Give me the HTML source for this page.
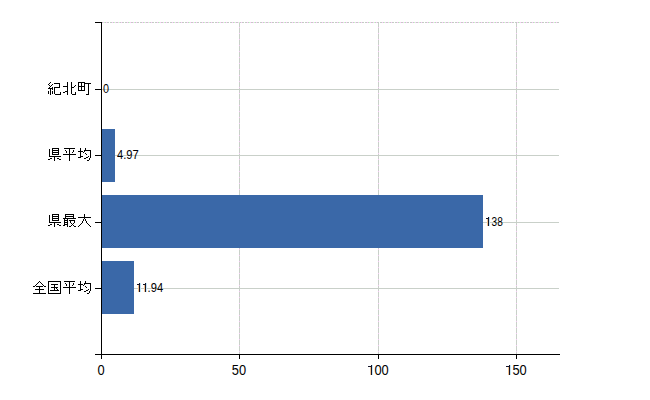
<!DOCTYPE html>
<html>
<head>
<meta charset="utf-8">
<style>
html,body{margin:0;padding:0;background:#fff;width:650px;height:400px;overflow:hidden;}
body{position:relative;font-family:"Liberation Sans",sans-serif;color:#000;}
.a{position:absolute;}
.hg{position:absolute;left:102px;width:457px;height:1px;background:#c9d0c9;}
.vg{position:absolute;top:23px;width:1px;height:331px;background:repeating-linear-gradient(to bottom,#c9d0c9 0,#c9d0c9 4px,#f4c8f4 4px,#f4c8f4 5px,#c9d0c9 5px,#c9d0c9 6px);}
.bar{position:absolute;left:102px;height:53px;background:#3a68a8;}
.yt{position:absolute;left:95px;width:6px;height:1px;background:#000;}
.dl{position:absolute;font-size:12px;line-height:12px;white-space:nowrap;transform-origin:0 50%;transform:scaleX(0.9);}
.xl{position:absolute;top:364px;font-size:14px;line-height:12px;white-space:nowrap;text-align:center;width:40px;transform:scaleX(0.92);}
.h{color:transparent;}
.xt{position:absolute;top:355px;width:1px;height:4px;background:#000;}
</style>
</head>
<body>
<!-- top dashed border -->
<div class="a" style="left:102px;top:22px;width:457px;height:1px;background:repeating-linear-gradient(to right,#c4ccc4 0px,#c4ccc4 1px,#fcc8fc 1px,#fcc8fc 2px,#c8fcc8 2px,#c8fcc8 3px,#c4ccc4 3px,#c4ccc4 4px,#fcc8fc 4px,#fcc8fc 5px,#c4ccc4 5px,#c4ccc4 6px,#c4ccc4 6px,#c4ccc4 7px,#ffffff 7px,#ffffff 8px,#c4ccc4 8px,#c4ccc4 9px,#c4ccc4 9px,#c4ccc4 10px,#fcc8fc 10px,#fcc8fc 11px,#c4ccc4 11px,#c4ccc4 12px,#c8fcc8 12px,#c8fcc8 13px,#fcc8fc 13px,#fcc8fc 14px,#c4ccc4 14px,#c4ccc4 15px);"></div>
<!-- vertical gridlines -->
<div class="vg" style="left:239px"></div>
<div class="vg" style="left:378px"></div>
<div class="vg" style="left:516px"></div>
<!-- horizontal gridlines -->
<div class="hg" style="top:89px"></div>
<div class="hg" style="top:155px"></div>
<div class="hg" style="top:222px"></div>
<div class="hg" style="top:288px"></div>
<!-- bars -->
<div class="bar" style="top:129px;width:13px"></div>
<div class="bar" style="top:195px;width:381px"></div>
<div class="bar" style="top:261px;width:32px"></div>
<!-- axes -->
<div class="a" style="left:101px;top:22px;width:1px;height:333px;background:#000"></div>
<div class="a" style="left:95px;top:354px;width:465px;height:1px;background:#000"></div>
<!-- y ticks -->
<div class="yt" style="top:22px"></div>
<div class="yt" style="top:89px"></div>
<div class="yt" style="top:155px"></div>
<div class="yt" style="top:222px"></div>
<div class="yt" style="top:288px"></div>
<!-- y labels (pixel glyphs: 紀北町 / 県平均 / 県最大 / 全国平均) -->
<svg class="a" style="left:0;top:0" width="650" height="400" viewBox="0 0 650 400" shape-rendering="crispEdges"><path fill="#000" d="M50 82h1v1h-1zM67 82h1v1h-1zM71 82h1v1h-1zM78 82h7v1h-7zM49 83h1v1h-1zM54 83h6v1h-6zM67 83h1v1h-1zM71 83h1v1h-1zM78 83h1v1h-1zM81 83h1v1h-1zM84 83h7v1h-7zM48 84h1v1h-1zM52 84h1v1h-1zM59 84h1v1h-1zM67 84h1v1h-1zM71 84h1v1h-1zM78 84h1v1h-1zM81 84h1v1h-1zM84 84h1v1h-1zM88 84h1v1h-1zM49 85h1v1h-1zM51 85h1v1h-1zM59 85h1v1h-1zM67 85h1v1h-1zM71 85h1v1h-1zM75 85h1v1h-1zM78 85h1v1h-1zM81 85h1v1h-1zM84 85h1v1h-1zM88 85h1v1h-1zM50 86h1v1h-1zM59 86h1v1h-1zM63 86h5v1h-5zM71 86h1v1h-1zM74 86h1v1h-1zM78 86h7v1h-7zM88 86h1v1h-1zM49 87h1v1h-1zM52 87h1v1h-1zM54 87h6v1h-6zM67 87h1v1h-1zM71 87h3v1h-3zM78 87h1v1h-1zM81 87h1v1h-1zM84 87h1v1h-1zM88 87h1v1h-1zM48 88h5v1h-5zM54 88h1v1h-1zM67 88h1v1h-1zM71 88h1v1h-1zM78 88h1v1h-1zM81 88h1v1h-1zM84 88h1v1h-1zM88 88h1v1h-1zM50 89h1v1h-1zM52 89h1v1h-1zM54 89h1v1h-1zM67 89h1v1h-1zM71 89h1v1h-1zM78 89h1v1h-1zM81 89h1v1h-1zM84 89h1v1h-1zM88 89h1v1h-1zM50 90h1v1h-1zM54 90h1v1h-1zM67 90h1v1h-1zM71 90h1v1h-1zM78 90h7v1h-7zM88 90h1v1h-1zM48 91h1v1h-1zM50 91h1v1h-1zM52 91h1v1h-1zM54 91h1v1h-1zM65 91h3v1h-3zM71 91h1v1h-1zM88 91h1v1h-1zM48 92h1v1h-1zM50 92h1v1h-1zM52 92h1v1h-1zM54 92h1v1h-1zM60 92h1v1h-1zM63 92h2v1h-2zM67 92h1v1h-1zM71 92h1v1h-1zM75 92h1v1h-1zM88 92h1v1h-1zM48 93h1v1h-1zM50 93h1v1h-1zM52 93h1v1h-1zM54 93h1v1h-1zM60 93h1v1h-1zM67 93h1v1h-1zM71 93h1v1h-1zM75 93h1v1h-1zM88 93h1v1h-1zM50 94h1v1h-1zM55 94h6v1h-6zM67 94h1v1h-1zM72 94h4v1h-4zM86 94h3v1h-3zM52 148h7v1h-7zM64 148h11v1h-11zM80 148h1v1h-1zM85 148h1v1h-1zM49 149h1v1h-1zM52 149h1v1h-1zM58 149h1v1h-1zM69 149h1v1h-1zM80 149h1v1h-1zM85 149h1v1h-1zM49 150h1v1h-1zM52 150h7v1h-7zM65 150h1v1h-1zM69 150h1v1h-1zM73 150h1v1h-1zM80 150h1v1h-1zM84 150h7v1h-7zM49 151h1v1h-1zM52 151h1v1h-1zM58 151h1v1h-1zM66 151h1v1h-1zM69 151h1v1h-1zM73 151h1v1h-1zM78 151h5v1h-5zM84 151h1v1h-1zM90 151h1v1h-1zM49 152h1v1h-1zM52 152h7v1h-7zM66 152h1v1h-1zM69 152h1v1h-1zM72 152h1v1h-1zM80 152h1v1h-1zM83 152h1v1h-1zM90 152h1v1h-1zM49 153h1v1h-1zM52 153h1v1h-1zM58 153h1v1h-1zM69 153h1v1h-1zM80 153h1v1h-1zM85 153h1v1h-1zM90 153h1v1h-1zM49 154h1v1h-1zM52 154h7v1h-7zM63 154h13v1h-13zM80 154h1v1h-1zM86 154h1v1h-1zM90 154h1v1h-1zM49 155h1v1h-1zM69 155h1v1h-1zM80 155h1v1h-1zM90 155h1v1h-1zM49 156h12v1h-12zM69 156h1v1h-1zM80 156h3v1h-3zM88 156h1v1h-1zM90 156h1v1h-1zM54 157h1v1h-1zM69 157h1v1h-1zM78 157h3v1h-3zM86 157h2v1h-2zM90 157h1v1h-1zM50 158h2v1h-2zM54 158h1v1h-1zM57 158h2v1h-2zM69 158h1v1h-1zM84 158h2v1h-2zM89 158h1v1h-1zM48 159h2v1h-2zM54 159h1v1h-1zM59 159h2v1h-2zM69 159h1v1h-1zM89 159h1v1h-1zM54 160h1v1h-1zM69 160h1v1h-1zM87 160h2v1h-2zM52 214h7v1h-7zM65 214h9v1h-9zM84 214h1v1h-1zM49 215h1v1h-1zM52 215h1v1h-1zM58 215h1v1h-1zM65 215h1v1h-1zM73 215h1v1h-1zM84 215h1v1h-1zM49 216h1v1h-1zM52 216h7v1h-7zM65 216h9v1h-9zM84 216h1v1h-1zM49 217h1v1h-1zM52 217h1v1h-1zM58 217h1v1h-1zM65 217h1v1h-1zM73 217h1v1h-1zM78 217h13v1h-13zM49 218h1v1h-1zM52 218h7v1h-7zM63 218h13v1h-13zM84 218h1v1h-1zM49 219h1v1h-1zM52 219h1v1h-1zM58 219h1v1h-1zM64 219h1v1h-1zM67 219h1v1h-1zM83 219h1v1h-1zM85 219h1v1h-1zM49 220h1v1h-1zM52 220h7v1h-7zM64 220h4v1h-4zM69 220h6v1h-6zM83 220h1v1h-1zM85 220h1v1h-1zM49 221h1v1h-1zM64 221h1v1h-1zM67 221h1v1h-1zM70 221h1v1h-1zM74 221h1v1h-1zM82 221h1v1h-1zM86 221h1v1h-1zM49 222h12v1h-12zM64 222h4v1h-4zM70 222h1v1h-1zM74 222h1v1h-1zM82 222h1v1h-1zM86 222h1v1h-1zM54 223h1v1h-1zM64 223h1v1h-1zM67 223h1v1h-1zM71 223h1v1h-1zM73 223h1v1h-1zM81 223h1v1h-1zM87 223h1v1h-1zM50 224h2v1h-2zM54 224h1v1h-1zM57 224h2v1h-2zM64 224h4v1h-4zM72 224h1v1h-1zM80 224h1v1h-1zM88 224h1v1h-1zM48 225h2v1h-2zM54 225h1v1h-1zM59 225h2v1h-2zM63 225h2v1h-2zM67 225h1v1h-1zM71 225h1v1h-1zM73 225h1v1h-1zM79 225h1v1h-1zM89 225h1v1h-1zM54 226h1v1h-1zM67 226h1v1h-1zM69 226h2v1h-2zM74 226h2v1h-2zM78 226h1v1h-1zM90 226h1v1h-1zM39 281h1v1h-1zM48 281h13v1h-13zM64 281h11v1h-11zM80 281h1v1h-1zM85 281h1v1h-1zM38 282h1v1h-1zM40 282h1v1h-1zM48 282h1v1h-1zM60 282h1v1h-1zM69 282h1v1h-1zM80 282h1v1h-1zM85 282h1v1h-1zM37 283h1v1h-1zM41 283h1v1h-1zM48 283h1v1h-1zM60 283h1v1h-1zM65 283h1v1h-1zM69 283h1v1h-1zM73 283h1v1h-1zM80 283h1v1h-1zM84 283h7v1h-7zM36 284h1v1h-1zM42 284h1v1h-1zM48 284h1v1h-1zM51 284h7v1h-7zM60 284h1v1h-1zM66 284h1v1h-1zM69 284h1v1h-1zM73 284h1v1h-1zM78 284h5v1h-5zM84 284h1v1h-1zM90 284h1v1h-1zM35 285h1v1h-1zM43 285h1v1h-1zM48 285h1v1h-1zM54 285h1v1h-1zM60 285h1v1h-1zM66 285h1v1h-1zM69 285h1v1h-1zM72 285h1v1h-1zM80 285h1v1h-1zM83 285h1v1h-1zM90 285h1v1h-1zM33 286h2v1h-2zM36 286h7v1h-7zM44 286h2v1h-2zM48 286h1v1h-1zM54 286h1v1h-1zM60 286h1v1h-1zM69 286h1v1h-1zM80 286h1v1h-1zM85 286h1v1h-1zM90 286h1v1h-1zM39 287h1v1h-1zM48 287h1v1h-1zM51 287h7v1h-7zM60 287h1v1h-1zM63 287h13v1h-13zM80 287h1v1h-1zM86 287h1v1h-1zM90 287h1v1h-1zM39 288h1v1h-1zM48 288h1v1h-1zM54 288h1v1h-1zM56 288h1v1h-1zM60 288h1v1h-1zM69 288h1v1h-1zM80 288h1v1h-1zM90 288h1v1h-1zM35 289h9v1h-9zM48 289h1v1h-1zM54 289h1v1h-1zM57 289h1v1h-1zM60 289h1v1h-1zM69 289h1v1h-1zM80 289h3v1h-3zM88 289h1v1h-1zM90 289h1v1h-1zM39 290h1v1h-1zM48 290h1v1h-1zM50 290h9v1h-9zM60 290h1v1h-1zM69 290h1v1h-1zM78 290h3v1h-3zM86 290h2v1h-2zM90 290h1v1h-1zM39 291h1v1h-1zM48 291h1v1h-1zM60 291h1v1h-1zM69 291h1v1h-1zM84 291h2v1h-2zM89 291h1v1h-1zM39 292h1v1h-1zM48 292h1v1h-1zM60 292h1v1h-1zM69 292h1v1h-1zM89 292h1v1h-1zM33 293h13v1h-13zM48 293h13v1h-13zM69 293h1v1h-1zM87 293h2v1h-2z"/></svg>
<!-- data labels -->
<div class="dl" style="left:103px;top:83px">0</div>
<div class="dl" style="left:117px;top:149px;transform:scaleX(0.93)">4.97</div>
<div class="dl" style="left:486px;top:216px;transform:scaleX(0.84)"><span class="h">1</span>38</div>
<div class="dl" style="left:136px;top:282px;transform:scaleX(0.93)"><span class="h">1</span><span class="h">1</span>.94</div>
<!-- digit 1 glyphs --><svg class="a" style="left:0;top:0" width="650" height="400" shape-rendering="crispEdges"><path fill="#f5c28c" d="M370 367h1v8h-1zM508 367h1v8h-1zM487 219h1v7h-1zM138 285h1v7h-1zM144 285h1v7h-1z"/><path fill="#bfe6fa" d="M372 365h1v10h-1zM510 365h1v10h-1zM489 217h1v9h-1zM140 283h1v9h-1zM146 283h1v9h-1z"/><path fill="#141428" d="M371 365h1v10h-1zM368 366h3v1h-3zM509 365h1v10h-1zM506 366h3v1h-3zM488 217h1v9h-1zM486 218h2v1h-2zM139 283h1v9h-1zM137 284h2v1h-2zM145 283h1v9h-1zM143 284h2v1h-2z"/></svg>
<!-- x ticks -->
<div class="xt" style="left:101px"></div>
<div class="xt" style="left:239px"></div>
<div class="xt" style="left:378px"></div>
<div class="xt" style="left:516px"></div>
<!-- x labels -->
<div class="xl" style="left:81px">0</div>
<div class="xl" style="left:219px">50</div>
<div class="xl" style="left:358px"><span class="h">1</span>00</div>
<div class="xl" style="left:496px"><span class="h">1</span>50</div>
</body>
</html>
